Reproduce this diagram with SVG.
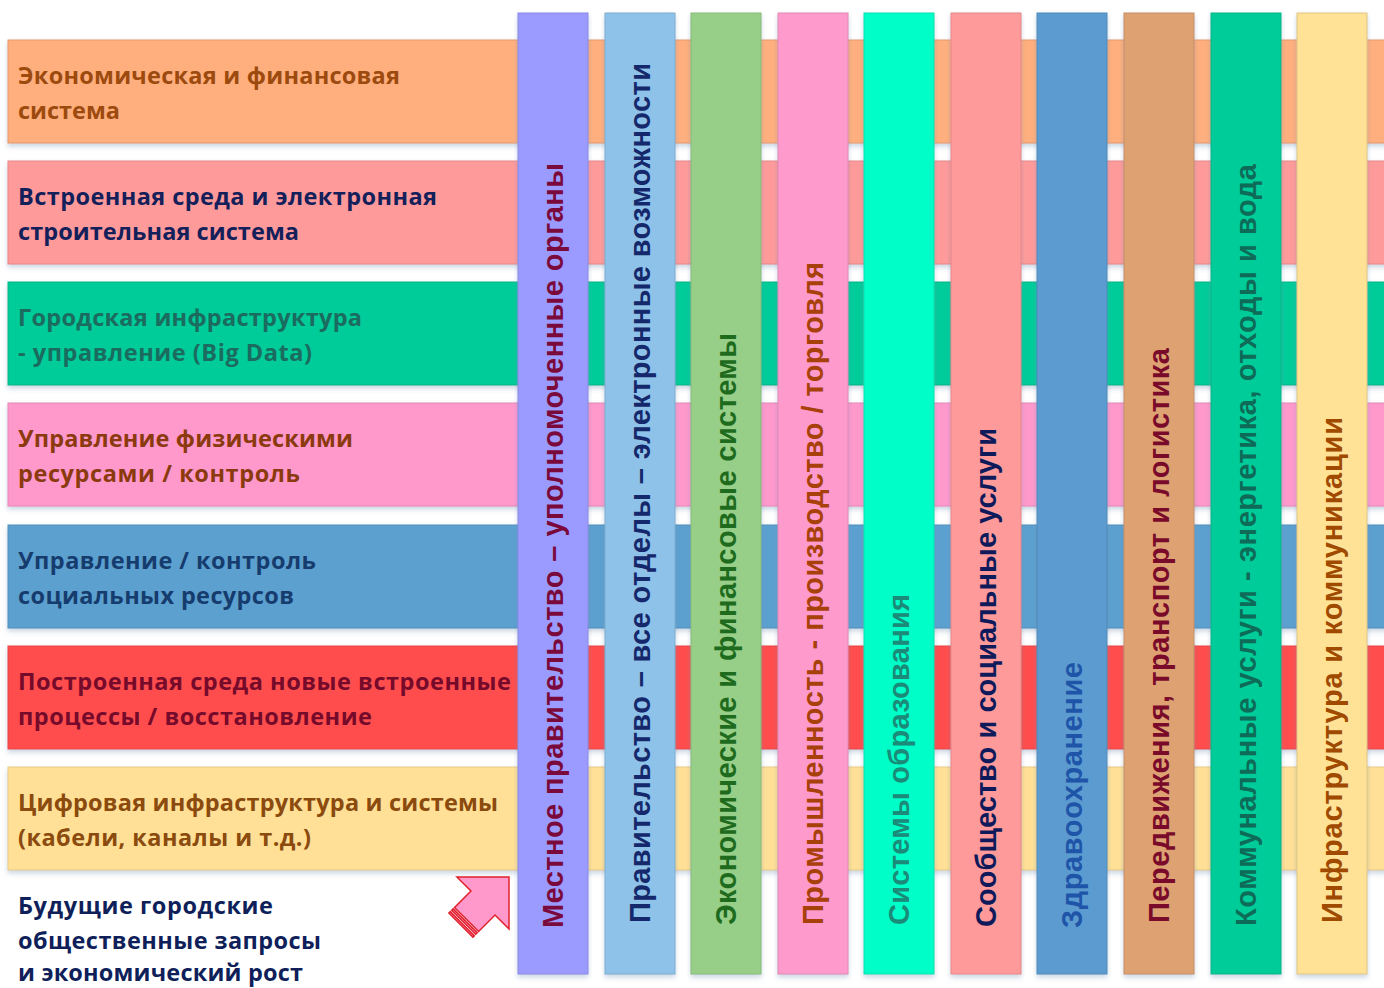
<svg xmlns="http://www.w3.org/2000/svg" width="1384" height="988" viewBox="0 0 1384 988">
  <defs>
    <filter id="shadow" x="-5%" y="-5%" width="110%" height="115%">
      <feDropShadow dx="0" dy="3" stdDeviation="2.5" flood-color="#6a8ab0" flood-opacity="0.35"/>
    </filter>
  </defs>
  <style>
    .row { filter: url(#shadow); stroke-width: 1; }
    .col { filter: url(#shadow); stroke-width: 1; }
    .rt { font-family: "Open Sans", "Liberation Sans", sans-serif; font-weight: 700; font-size: 23.5px; }
    .ct { font-family: "Liberation Sans", Arial, sans-serif; font-weight: 700; font-size: 29px; }
  </style>
  <rect width="1384" height="988" fill="#ffffff"/>

  <!-- horizontal bands -->
  <g id="row-economy">
    <rect class="row" x="8" y="40" width="1390" height="103" fill="#FFAF7D" stroke="#e39a6c"/>
    <text class="rt" fill="#9C4A0E" x="18" y="84" textLength="382">Экономическая и финансовая</text>
    <text class="rt" fill="#9C4A0E" x="18" y="119" textLength="102">система</text>
  </g>
  <g id="row-built">
    <rect class="row" x="8" y="161" width="1390" height="103" fill="#FF9A9A" stroke="#e58888"/>
    <text class="rt" fill="#14205A" x="18" y="205" textLength="419">Встроенная среда и электронная</text>
    <text class="rt" fill="#14205A" x="18" y="240" textLength="281">строительная система</text>
  </g>
  <g id="row-urban">
    <rect class="row" x="8" y="282" width="1390" height="103" fill="#00CC99" stroke="#00b487"/>
    <text class="rt" fill="#1B6B5F" x="18" y="326" textLength="344">Городская инфраструктура</text>
    <text class="rt" fill="#1B6B5F" x="18" y="361" textLength="294">- управление (Big Data)</text>
  </g>
  <g id="row-physical">
    <rect class="row" x="8" y="403" width="1390" height="103" fill="#FF99CC" stroke="#e588b6"/>
    <text class="rt" fill="#8B3A0E" x="18" y="447" textLength="335">Управление физическими</text>
    <text class="rt" fill="#8B3A0E" x="18" y="482" textLength="282">ресурсами / контроль</text>
  </g>
  <g id="row-social">
    <rect class="row" x="8" y="525" width="1390" height="103" fill="#5BA0D0" stroke="#518fbb"/>
    <text class="rt" fill="#163C6E" x="18" y="569" textLength="298">Управление / контроль</text>
    <text class="rt" fill="#163C6E" x="18" y="604" textLength="276">социальных ресурсов</text>
  </g>
  <g id="row-rebuilt">
    <rect class="row" x="8" y="646" width="1390" height="103" fill="#FF4D4D" stroke="#e54545"/>
    <text class="rt" fill="#750A2A" x="18" y="690" textLength="493">Построенная среда новые встроенные</text>
    <text class="rt" fill="#750A2A" x="18" y="725" textLength="354">процессы / восстановление</text>
  </g>
  <g id="row-digital">
    <rect class="row" x="8" y="767" width="1390" height="103" fill="#FFE096" stroke="#e5c987"/>
    <text class="rt" fill="#8B4A0E" x="18" y="811" textLength="480">Цифровая инфраструктура и системы</text>
    <text class="rt" fill="#8B4A0E" x="18" y="846" textLength="293">(кабели, каналы и т.д.)</text>
  </g>

  <!-- vertical bands -->
  <g id="col-local-gov">
    <rect class="col" x="518" y="13" width="70" height="961" fill="#9B9BFF" stroke="#8a8ae6"/>
    <text class="ct" fill="#7B0A3C" transform="translate(563 928) rotate(-90)" textLength="765">Местное правительство – уполномоченные органы</text>
  </g>
  <g id="col-gov">
    <rect class="col" x="605" y="13" width="70" height="961" fill="#8EC2E8" stroke="#7fadd0"/>
    <text class="ct" fill="#14286B" transform="translate(650 923) rotate(-90)" textLength="860">Правительство – все отделы – электронные возможности</text>
  </g>
  <g id="col-econ">
    <rect class="col" x="691" y="13" width="70" height="961" fill="#98CF88" stroke="#88b97a"/>
    <text class="ct" fill="#1E6B1E" transform="translate(736 925) rotate(-90)" textLength="592">Экономические и финансовые системы</text>
  </g>
  <g id="col-industry">
    <rect class="col" x="778" y="13" width="70" height="961" fill="#FF9ACD" stroke="#e08ab6"/>
    <text class="ct" fill="#A8400A" transform="translate(823 925) rotate(-90)" textLength="663">Промышленность - производство / торговля</text>
  </g>
  <g id="col-education">
    <rect class="col" x="864" y="13" width="70" height="961" fill="#00FFC8" stroke="#00e0b0"/>
    <text class="ct" fill="#1B8A78" transform="translate(909 925) rotate(-90)" textLength="331">Системы образования</text>
  </g>
  <g id="col-community">
    <rect class="col" x="951" y="13" width="70" height="961" fill="#FF9A9A" stroke="#e58888"/>
    <text class="ct" fill="#0F1A5A" transform="translate(996 927) rotate(-90)" textLength="499">Сообщество и социальные услуги</text>
  </g>
  <g id="col-health">
    <rect class="col" x="1037" y="13" width="70" height="961" fill="#5B9BD0" stroke="#518bbb"/>
    <text class="ct" fill="#1F55A8" transform="translate(1082 928) rotate(-90)" textLength="266">Здравоохранение</text>
  </g>
  <g id="col-transport">
    <rect class="col" x="1124" y="13" width="70" height="961" fill="#DDA172" stroke="#c48f66"/>
    <text class="ct" fill="#7A0A2A" transform="translate(1169 923) rotate(-90)" textLength="575">Передвижения, транспорт и логистика</text>
  </g>
  <g id="col-utilities">
    <rect class="col" x="1211" y="13" width="70" height="961" fill="#00CC99" stroke="#00b487"/>
    <text class="ct" fill="#0D6B58" transform="translate(1256 926) rotate(-90)" textLength="762">Коммунальные услуги - энергетика, отходы и вода</text>
  </g>
  <g id="col-infra">
    <rect class="col" x="1297" y="13" width="70" height="961" fill="#FFE295" stroke="#e0c583"/>
    <text class="ct" fill="#A04A00" transform="translate(1342 923) rotate(-90)" textLength="506">Инфраструктура и коммуникации</text>
  </g>

  <!-- caption and striped block arrow -->
  <g id="caption">
    <text class="rt" fill="#0F1F5A" x="18" y="914" textLength="255">Будущие городские</text>
    <text class="rt" fill="#0F1F5A" x="18" y="949" textLength="303">общественные запросы</text>
    <text class="rt" fill="#0F1F5A" x="18" y="981" textLength="285">и экономический рост</text>
  </g>
  <g id="connectors">
    <g id="growth-arrow" transform="translate(509 877) rotate(-45)" fill="#FF99CC" stroke="#E0202A" stroke-width="1.5" stroke-linejoin="miter">
      <polygon points="0,0 -36.8,-36.8 -36.8,-17 -60,-17 -60,17 -36.8,17 -36.8,36.8"/>
      <rect x="-64" y="-17" width="2" height="34"/>
      <rect x="-68" y="-17" width="2" height="34"/>
    </g>
  </g>
</svg>
